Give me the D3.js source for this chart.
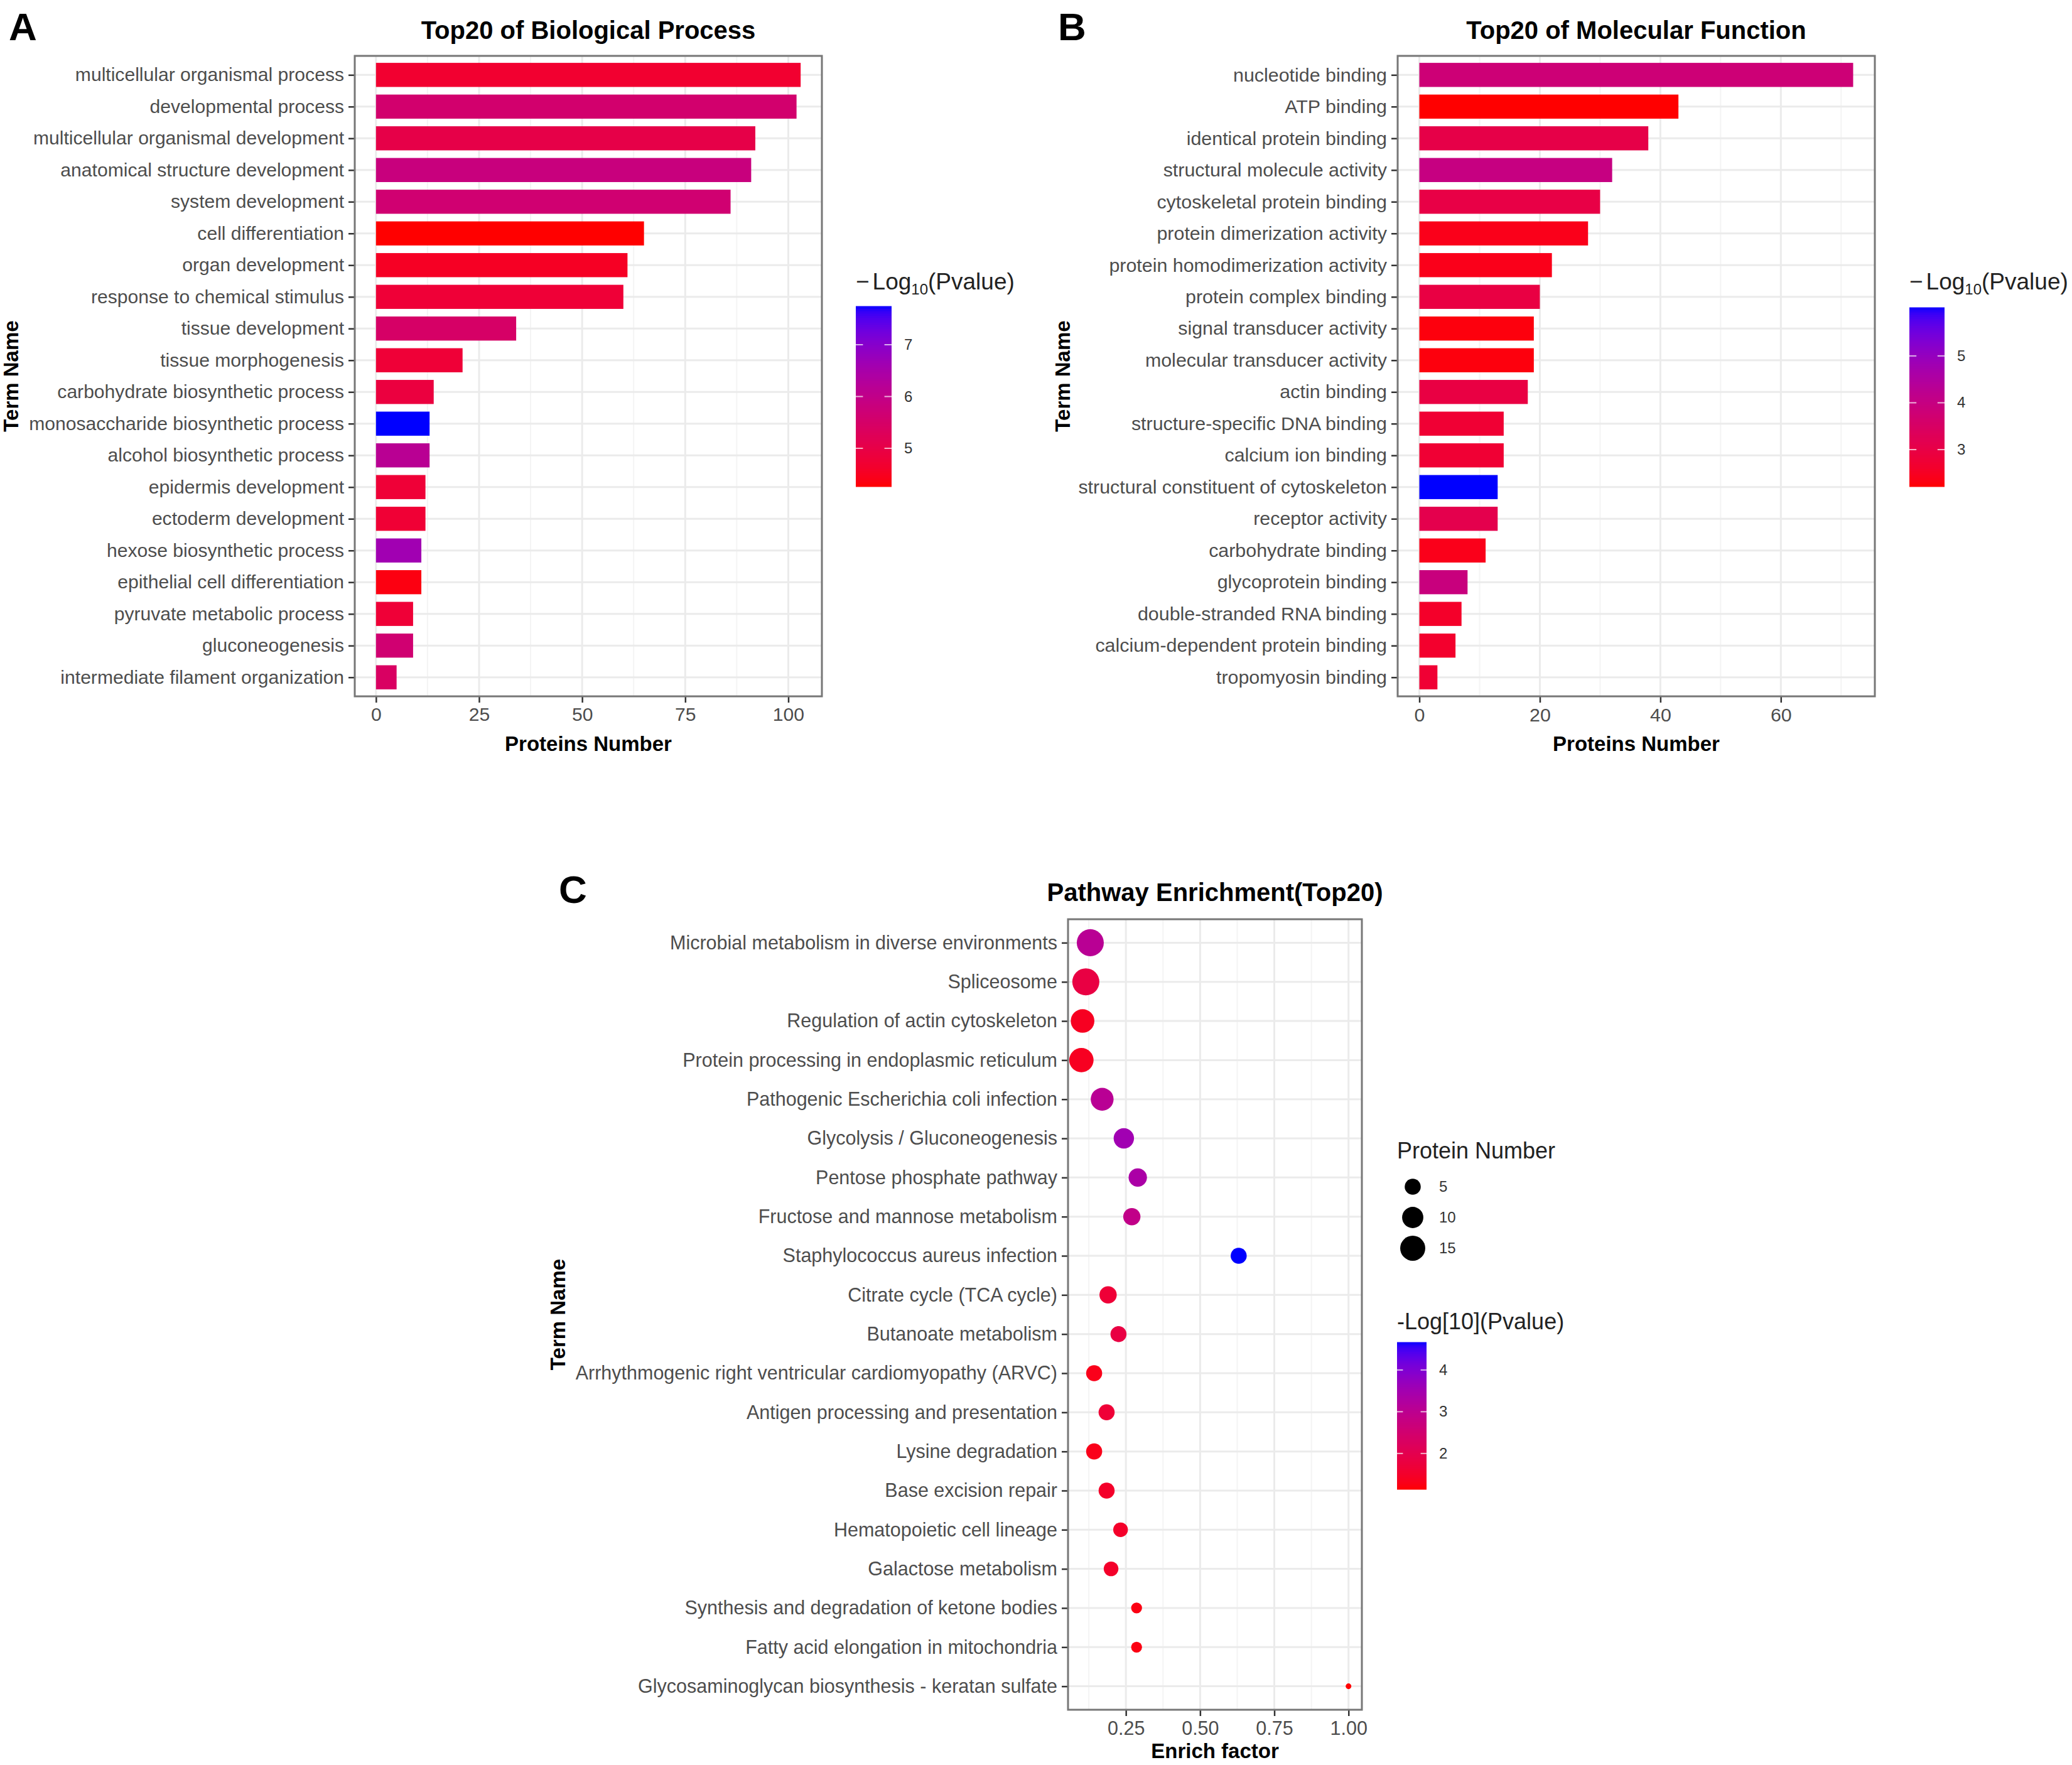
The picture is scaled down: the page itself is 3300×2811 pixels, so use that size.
<!DOCTYPE html>
<html>
<head>
<meta charset="utf-8">
<script src="https://cdn.jsdelivr.net/npm/d3@7"></script>
<style>
    body { margin: 0; background: #fff; }
    svg { display: block; }
    text { font-family: "Liberation Sans", Arial, Helvetica, sans-serif; }
</style>
</head>
<body>
<div id="chart"></div>
<script>
// Panel A: Top20 of Biological Process
var bpTerms = [
    "multicellular organismal process",
    "developmental process",
    "multicellular organismal development",
    "anatomical structure development",
    "system development",
    "cell differentiation",
    "organ development",
    "response to chemical stimulus",
    "tissue development",
    "tissue morphogenesis",
    "carbohydrate biosynthetic process",
    "monosaccharide biosynthetic process",
    "alcohol biosynthetic process",
    "epidermis development",
    "ectoderm development",
    "hexose biosynthetic process",
    "epithelial cell differentiation",
    "pyruvate metabolic process",
    "gluconeogenesis",
    "intermediate filament organization"
];
var bpCounts = [103, 102, 92, 91, 86, 65, 61, 60, 34, 21, 14, 13, 13, 12, 12, 11, 11, 9, 9, 5];
var bpLogP = [4.68, 5.58, 5.03, 5.83, 5.65, 4.26, 4.54, 4.78, 5.48, 4.78,
              4.89, 7.74, 6.17, 4.78, 4.75, 6.63, 4.36, 4.78, 5.65, 5.41];
var bpTicks = [0, 25, 50, 75, 100];
var bpLegendBreaks = [5, 6, 7];

// Panel B: Top20 of Molecular Function
var mfTerms = [
    "nucleotide binding",
    "ATP binding",
    "identical protein binding",
    "structural molecule activity",
    "cytoskeletal protein binding",
    "protein dimerization activity",
    "protein homodimerization activity",
    "protein complex binding",
    "signal transducer activity",
    "molecular transducer activity",
    "actin binding",
    "structure-specific DNA binding",
    "calcium ion binding",
    "structural constituent of cytoskeleton",
    "receptor activity",
    "carbohydrate binding",
    "glycoprotein binding",
    "double-stranded RNA binding",
    "calcium-dependent protein binding",
    "tropomyosin binding"
];
var mfCounts = [72, 43, 38, 32, 30, 28, 22, 20, 19, 19, 18, 14, 14, 13, 13, 11, 8, 7, 6, 3];
var mfLogP = [3.81, 2.21, 3.05, 4.0, 3.01, 2.4, 2.4, 2.97, 2.29, 2.29,
              2.97, 2.74, 2.74, 6.03, 3.13, 2.4, 3.93, 2.59, 2.63, 2.74];
var mfTicks = [0, 20, 40, 60];
var mfLegendBreaks = [3, 4, 5];

// Panel C: Pathway Enrichment(Top20)
var pwTerms = [
    "Microbial metabolism in diverse environments",
    "Spliceosome",
    "Regulation of actin cytoskeleton",
    "Protein processing in endoplasmic reticulum",
    "Pathogenic Escherichia coli infection",
    "Glycolysis / Gluconeogenesis",
    "Pentose phosphate pathway",
    "Fructose and mannose metabolism",
    "Staphylococcus aureus infection",
    "Citrate cycle (TCA cycle)",
    "Butanoate metabolism",
    "Arrhythmogenic right ventricular cardiomyopathy (ARVC)",
    "Antigen processing and presentation",
    "Lysine degradation",
    "Base excision repair",
    "Hematopoietic cell lineage",
    "Galactose metabolism",
    "Synthesis and degradation of ketone bodies",
    "Fatty acid elongation in mitochondria",
    "Glycosaminoglycan biosynthesis - keratan sulfate"
];
var pwFactor = [0.13, 0.115, 0.104, 0.10, 0.17, 0.243, 0.29, 0.27, 0.63, 0.19,
                0.225, 0.143, 0.185, 0.143, 0.185, 0.232, 0.20, 0.286, 0.286, 1.0];
var pwCounts = [18, 18, 13, 14, 12, 9, 7, 6, 5, 6, 5, 5, 5, 5, 5, 4, 4, 2, 2, 1];
var pwLogP = [3.08, 1.84, 1.39, 1.39, 3.08, 3.53, 3.36, 2.9, 4.66, 1.67,
              1.84, 1.32, 1.67, 1.32, 1.49, 1.49, 1.49, 1.25, 1.25, 1.14];
var pwTicks = [0.25, 0.50, 0.75, 1.00];
var pwLegendBreaks = [2, 3, 4];
var pwSizeBreaks = [5, 10, 15];

var W = 3300, H = 2811;
var FONT = "'Liberation Sans', Arial, Helvetica, sans-serif";

var svg = d3.select("#chart")
    .append("svg")
    .attr("width", W)
    .attr("height", H)
    .attr("viewBox", "0 0 " + W + " " + H);

svg.append("rect")
    .attr("width", W)
    .attr("height", H)
    .attr("fill", "#fff");

// ggplot-like 5% expansion of a continuous range
function expand(ext) {
    var r = ext[1] - ext[0];
    return [ext[0] - r * 0.05, ext[1] + r * 0.05];
}

// red -> blue gradient in Lab space, like scale_fill_gradient
function makeColor(values) {
    return d3.scaleLinear()
        .domain(d3.extent(values))
        .range(["#ff0000", "#0000ff"])
        .interpolate(d3.interpolateLab);
}

// Minor breaks halfway between majors, kept inside the domain
function minorBreaks(ticks, domain) {
    var step = ticks[1] - ticks[0];
    var out = [];
    var t;
    for (t = ticks[0] - step / 2; t <= ticks[ticks.length - 1] + step; t += step) {
        if (t > domain[0] && t < domain[1]) out.push(t);
    }
    return out;
}

// Panel background and grid shared by all three plots
function drawFrame(opt, x, y) {
    var g = svg.append("g");

    g.append("rect")
        .attr("x", opt.left)
        .attr("y", opt.top)
        .attr("width", opt.right - opt.left)
        .attr("height", opt.bottom - opt.top)
        .attr("fill", "#fff");

    g.selectAll(".minor")
        .data(minorBreaks(opt.ticks, x.domain()))
        .enter()
        .append("line")
        .attr("x1", function(d) { return x(d); })
        .attr("x2", function(d) { return x(d); })
        .attr("y1", opt.top)
        .attr("y2", opt.bottom)
        .attr("stroke", "#f4f4f4")
        .attr("stroke-width", 2);

    g.selectAll(".vmajor")
        .data(opt.ticks)
        .enter()
        .append("line")
        .attr("x1", function(d) { return x(d); })
        .attr("x2", function(d) { return x(d); })
        .attr("y1", opt.top)
        .attr("y2", opt.bottom)
        .attr("stroke", "#ebebeb")
        .attr("stroke-width", 3);

    g.selectAll(".hmajor")
        .data(opt.terms)
        .enter()
        .append("line")
        .attr("x1", opt.left)
        .attr("x2", opt.right)
        .attr("y1", function(d) { return y(d); })
        .attr("y2", function(d) { return y(d); })
        .attr("stroke", "#ebebeb")
        .attr("stroke-width", 3);

    return g;
}

function drawAxes(opt, x, y, fmt) {
    var xAxis = svg.append("g")
        .attr("transform", "translate(0," + opt.bottom + ")")
        .call(d3.axisBottom(x).tickValues(opt.ticks).tickSize(10).tickPadding(8).tickFormat(fmt));

    var yAxis = svg.append("g")
        .attr("transform", "translate(" + opt.left + ",0)")
        .call(d3.axisLeft(y).tickSize(10).tickPadding(7));

    [xAxis, yAxis].forEach(function(a) {
        a.select(".domain").remove();
        a.selectAll(".tick line").attr("stroke", "#333").attr("stroke-width", 2.5);
        a.selectAll(".tick text")
            .attr("fill", "#4d4d4d")
            .style("font-family", FONT)
            .style("font-size", opt.tickFont + "px");
    });

    // panel border on top
    svg.append("rect")
        .attr("x", opt.left)
        .attr("y", opt.top)
        .attr("width", opt.right - opt.left)
        .attr("height", opt.bottom - opt.top)
        .attr("fill", "none")
        .attr("stroke", "#777")
        .attr("stroke-width", 3);

    svg.append("text")
        .attr("x", (opt.left + opt.right) / 2)
        .attr("y", opt.titleY)
        .attr("text-anchor", "middle")
        .style("font-size", "40px")
        .style("font-weight", "bold")
        .text(opt.title);

    svg.append("text")
        .attr("x", (opt.left + opt.right) / 2)
        .attr("y", opt.xTitleY)
        .attr("text-anchor", "middle")
        .style("font-size", "33px")
        .style("font-weight", "bold")
        .text(opt.xTitle);

    svg.append("text")
        .attr("transform", "translate(" + opt.yTitleX + "," + ((opt.top + opt.bottom) / 2) + ") rotate(-90)")
        .attr("text-anchor", "middle")
        .style("font-size", "33px")
        .style("font-weight", "bold")
        .text("Term Name");

    svg.append("text")
        .attr("x", opt.tagX)
        .attr("y", opt.tagY)
        .style("font-size", "62px")
        .style("font-weight", "bold")
        .text(opt.tag);
}

// Vertical colour bar legend
function drawColorbar(color, opt) {
    var g = svg.append("g");
    var ext = color.domain();
    var ys = d3.scaleLinear().domain(ext).range([opt.y + opt.h, opt.y]);
    var n = 80;
    var bins = d3.range(n).map(function(i) { return ext[0] + (ext[1] - ext[0]) * (i + 0.5) / n; });
    var bh = opt.h / n;

    g.selectAll(".bin")
        .data(bins)
        .enter()
        .append("rect")
        .attr("x", opt.x)
        .attr("y", function(d) { return ys(d) - bh / 2 - 0.5; })
        .attr("width", opt.w)
        .attr("height", bh + 1)
        .attr("fill", function(d) { return color(d); });

    var tl = opt.w / 5;
    opt.breaks.forEach(function(b) {
        g.append("line")
            .attr("x1", opt.x).attr("x2", opt.x + tl)
            .attr("y1", ys(b)).attr("y2", ys(b))
            .attr("stroke", "#fff").attr("stroke-width", 2).attr("opacity", 0.7);
        g.append("line")
            .attr("x1", opt.x + opt.w - tl).attr("x2", opt.x + opt.w)
            .attr("y1", ys(b)).attr("y2", ys(b))
            .attr("stroke", "#fff").attr("stroke-width", 2).attr("opacity", 0.7);
        g.append("text")
            .attr("x", opt.x + opt.w + 20)
            .attr("y", ys(b) + 8)
            .attr("fill", "#333")
            .style("font-size", "24px")
            .text(b);
    });

    var title = g.append("text")
        .attr("x", opt.x)
        .attr("y", opt.titleY)
        .attr("fill", "#222");

    if (opt.sub) {
        title.style("font-size", "37px");
        title.append("tspan").text("\u2212");
        title.append("tspan").attr("dx", 5).text("Log");
        title.append("tspan").attr("dy", 8).style("font-size", "24px").text("10");
        title.append("tspan").attr("dy", -8).text("(Pvalue)");
    } else {
        title.style("font-size", "36px").text(opt.title);
    }
}

// Horizontal bar panel (A and B)
function drawBarPanel(opt) {
    var x = d3.scaleLinear()
        .domain(expand([0, d3.max(opt.counts)]))
        .range([opt.left, opt.right]);

    var y = d3.scalePoint()
        .domain(opt.terms)
        .range([opt.top, opt.bottom])
        .padding(0.6);

    var color = makeColor(opt.logp);
    var g = drawFrame(opt, x, y);
    var barH = y.step() * 0.76;

    g.selectAll(".bar")
        .data(opt.terms)
        .enter()
        .append("rect")
        .attr("class", "bar")
        .attr("x", x(0))
        .attr("y", function(d) { return y(d) - barH / 2; })
        .attr("width", function(d, i) { return x(opt.counts[i]) - x(0); })
        .attr("height", barH)
        .attr("fill", function(d, i) { return color(opt.logp[i]); });

    drawAxes(opt, x, y, d3.format("d"));
    drawColorbar(color, opt.legend);
}

drawBarPanel({
    terms: bpTerms, counts: bpCounts, logp: bpLogP, ticks: bpTicks,
    left: 565, right: 1309, top: 89, bottom: 1109,
    tickFont: 30.1,
    title: "Top20 of Biological Process", titleY: 62,
    xTitle: "Proteins Number", xTitleY: 1196,
    yTitleX: 29, tag: "A", tagX: 14, tagY: 64,
    legend: { x: 1363, y: 488, w: 57, h: 287, breaks: bpLegendBreaks, titleY: 461, sub: true }
});

drawBarPanel({
    terms: mfTerms, counts: mfCounts, logp: mfLogP, ticks: mfTicks,
    left: 2226, right: 2986, top: 89, bottom: 1109,
    tickFont: 30.4,
    title: "Top20 of Molecular Function", titleY: 62,
    xTitle: "Proteins Number", xTitleY: 1196,
    yTitleX: 1704, tag: "B", tagX: 1685, tagY: 64,
    legend: { x: 3041, y: 490, w: 56, h: 285, breaks: mfLegendBreaks, titleY: 461, sub: true }
});

// Bubble panel (C)
(function() {
    var opt = {
        terms: pwTerms, ticks: pwTicks,
        left: 1701, right: 2169, top: 1464, bottom: 2723,
        tickFont: 30.5,
        title: "Pathway Enrichment(Top20)", titleY: 1435,
        xTitle: "Enrich factor", xTitleY: 2800,
        yTitleX: 900, tag: "C", tagX: 890, tagY: 1438
    };

    var x = d3.scaleLinear()
        .domain(expand(d3.extent(pwFactor)))
        .range([opt.left, opt.right]);

    var y = d3.scalePoint()
        .domain(pwTerms)
        .range([opt.top, opt.bottom])
        .padding(0.6);

    var color = makeColor(pwLogP);

    // area palette: size 1..6 over sqrt of rescaled count, converted to a pixel diameter
    var sizeT = d3.scaleLinear().domain(d3.extent(pwCounts)).range([0, 1]);
    var sizeR = d3.scaleLinear().domain([0, 1]).range([1, 6]);
    function diam(n) {
        var s = sizeR(Math.sqrt(sizeT(n)));
        return 2.39 * (s * 2.845 + 0.945);
    }

    var g = drawFrame(opt, x, y);

    g.selectAll(".dot")
        .data(pwTerms)
        .enter()
        .append("circle")
        .attr("class", "dot")
        .attr("cx", function(d, i) { return x(pwFactor[i]); })
        .attr("cy", function(d) { return y(d); })
        .attr("r", function(d, i) { return diam(pwCounts[i]) / 2; })
        .attr("fill", function(d, i) { return color(pwLogP[i]); });

    drawAxes(opt, x, y, d3.format(".2f"));

    // size legend
    var lg = svg.append("g");
    lg.append("text")
        .attr("x", 2225)
        .attr("y", 1845)
        .attr("fill", "#222")
        .style("font-size", "36px")
        .text("Protein Number");

    var keyY = d3.scalePoint().domain(pwSizeBreaks).range([1890, 1988]);
    lg.selectAll(".key")
        .data(pwSizeBreaks)
        .enter()
        .append("circle")
        .attr("cx", 2250)
        .attr("cy", function(d) { return keyY(d); })
        .attr("r", function(d) { return diam(d) / 2; })
        .attr("fill", "#000");

    lg.selectAll(".keylab")
        .data(pwSizeBreaks)
        .enter()
        .append("text")
        .attr("x", 2292)
        .attr("y", function(d) { return keyY(d) + 8; })
        .attr("fill", "#333")
        .style("font-size", "24px")
        .text(function(d) { return d; });

    drawColorbar(color, { x: 2225, y: 2138, w: 47, h: 234, breaks: pwLegendBreaks, titleY: 2117, title: "-Log[10](Pvalue)" });
})();
</script>
</body>
</html>
